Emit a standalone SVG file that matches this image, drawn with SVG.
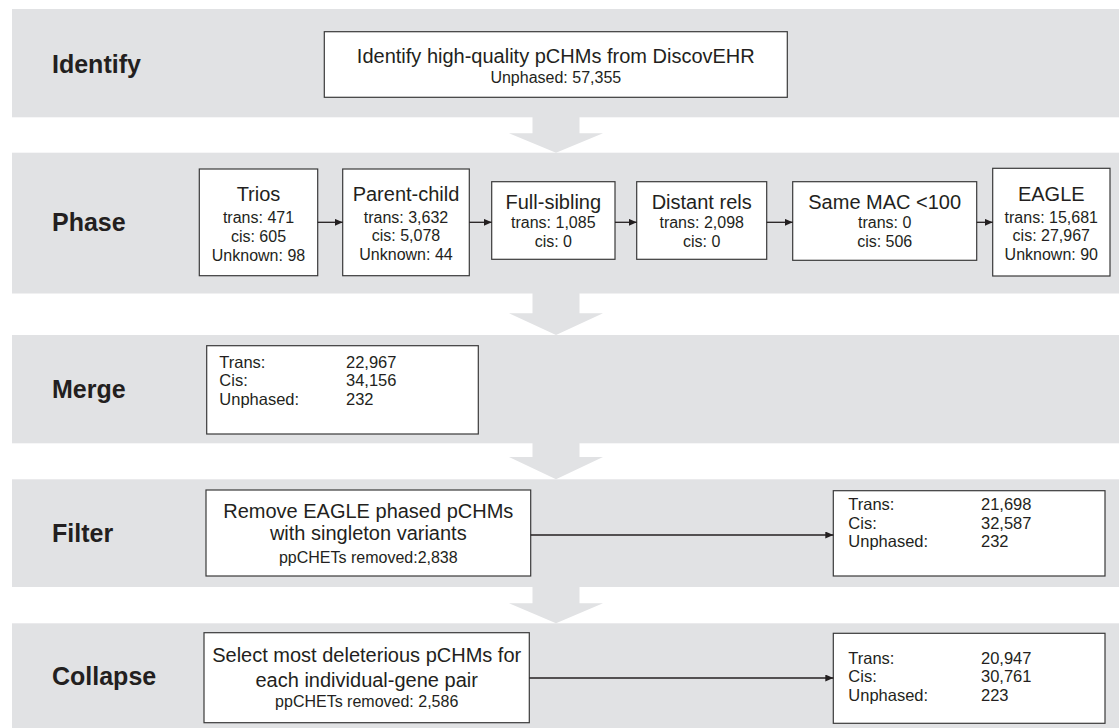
<svg xmlns="http://www.w3.org/2000/svg" width="1119" height="728" viewBox="0 0 1119 728">
<style>
.band{fill:#e1e2e4}
.box{fill:#fff;stroke:#3a3a3a;stroke-width:1.2}
.lbl{font-family:"Liberation Sans",Arial,sans-serif;font-weight:bold;font-size:25px;fill:#231f20}
.t20{font-family:"Liberation Sans",Arial,sans-serif;font-size:20px;fill:#231f20;text-anchor:middle}
.t16{font-family:"Liberation Sans",Arial,sans-serif;font-size:16px;fill:#231f20;text-anchor:middle}
.tl{font-family:"Liberation Sans",Arial,sans-serif;font-size:16.5px;fill:#231f20}
.conn{stroke:#231f20;stroke-width:1.3;fill:none;marker-end:url(#ah)}
</style>
<defs>
<marker id="ah" markerUnits="userSpaceOnUse" markerWidth="9" markerHeight="7" refX="8" refY="3.5" orient="auto">
<path d="M0,0 L8,3.5 L0,7 z" fill="#231f20"/>
</marker>
</defs>
<rect width="1119" height="728" fill="#fff"/>
<g id="bands">
<rect class="band" x="12" y="9" width="1107" height="108.3"/>
<rect class="band" x="12" y="152.7" width="1107" height="140.8"/>
<rect class="band" x="12" y="335" width="1107" height="108.3"/>
<rect class="band" x="12" y="479.3" width="1107" height="107.7"/>
<rect class="band" x="12" y="623.3" width="1107" height="104.7"/>
<polygon class="band" points="532.5,117 579.5,117 579.5,133.3 603,133.3 556,152.7 509,133.3 532.5,133.3"/>
<polygon class="band" points="532.5,293 579.5,293 579.5,313.3 603,313.3 556,335 509,313.3 532.5,313.3"/>
<polygon class="band" points="532.5,443 579.5,443 579.5,457 603,457 556,479.3 509,457 532.5,457"/>
<polygon class="band" points="532.5,586.5 579.5,586.5 579.5,603.3 603,603.3 556,623.3 509,603.3 532.5,603.3"/>
<text class="lbl" x="52" y="73">Identify</text>
<text class="lbl" x="52" y="231">Phase</text>
<text class="lbl" x="52" y="398">Merge</text>
<text class="lbl" x="52" y="542">Filter</text>
<text class="lbl" x="52" y="685">Collapse</text>
</g>
<g id="identify">
<rect class="box" x="324.3" y="31.7" width="463" height="65.6"/>
<text class="t20" x="555.8" y="63">Identify high-quality pCHMs from DiscovEHR</text>
<text class="t16" x="555.8" y="83">Unphased: 57,355</text>
</g>
<g id="trios">
<rect class="box" x="199.3" y="169" width="118.4" height="106.7"/>
<text class="t20" x="258.5" y="201">Trios</text>
<text class="t16" x="258.5" y="222.5">trans: 471</text>
<text class="t16" x="258.5" y="241.5">cis: 605</text>
<text class="t16" x="258.5" y="260.5">Unknown: 98</text>
</g>
<g id="parent-child">
<rect class="box" x="342.7" y="169" width="126.6" height="106.7"/>
<text class="t20" x="406" y="201">Parent-child</text>
<text class="t16" x="406" y="222.5">trans: 3,632</text>
<text class="t16" x="406" y="241">cis: 5,078</text>
<text class="t16" x="406" y="259.5">Unknown: 44</text>
</g>
<g id="full-sibling">
<rect class="box" x="491.7" y="181.7" width="123.3" height="77.6"/>
<text class="t20" x="553.3" y="209">Full-sibling</text>
<text class="t16" x="553.3" y="228">trans: 1,085</text>
<text class="t16" x="553.3" y="246.5">cis: 0</text>
</g>
<g id="distant-rels">
<rect class="box" x="636.7" y="181.7" width="130" height="77.6"/>
<text class="t20" x="701.7" y="209">Distant rels</text>
<text class="t16" x="701.7" y="228">trans: 2,098</text>
<text class="t16" x="701.7" y="246.5">cis: 0</text>
</g>
<g id="same-mac">
<rect class="box" x="792.7" y="181.7" width="184" height="78.6"/>
<text class="t20" x="884.7" y="209">Same MAC &lt;100</text>
<text class="t16" x="884.7" y="228">trans: 0</text>
<text class="t16" x="884.7" y="246.5">cis: 506</text>
</g>
<g id="eagle">
<rect class="box" x="992.7" y="168.3" width="117.3" height="107.7"/>
<text class="t20" x="1051.3" y="201">EAGLE</text>
<text class="t16" x="1051.3" y="222.5">trans: 15,681</text>
<text class="t16" x="1051.3" y="241">cis: 27,967</text>
<text class="t16" x="1051.3" y="259.5">Unknown: 90</text>
</g>
<g id="merge">
<rect class="box" x="206.7" y="345.7" width="271.6" height="88.3"/>
<text class="tl" x="219.3" y="367.5">Trans:</text>
<text class="tl" x="346" y="367.5">22,967</text>
<text class="tl" x="219.3" y="386">Cis:</text>
<text class="tl" x="346" y="386">34,156</text>
<text class="tl" x="219.3" y="404.5">Unphased:</text>
<text class="tl" x="346" y="404.5">232</text>
</g>
<g id="filter">
<rect class="box" x="206" y="490" width="324.7" height="86"/>
<text class="t20" x="368.3" y="518">Remove EAGLE phased pCHMs</text>
<text class="t20" x="368.3" y="540">with singleton variants</text>
<text class="t16" x="368.3" y="563">ppCHETs removed:2,838</text>
</g>
<g id="filter-result">
<rect class="box" x="833.3" y="490.7" width="271.7" height="85.3"/>
<text class="tl" x="848.3" y="510">Trans:</text>
<text class="tl" x="981" y="510">21,698</text>
<text class="tl" x="848.3" y="528.5">Cis:</text>
<text class="tl" x="981" y="528.5">32,587</text>
<text class="tl" x="848.3" y="547">Unphased:</text>
<text class="tl" x="981" y="547">232</text>
</g>
<g id="collapse">
<rect class="box" x="204" y="632.7" width="325.3" height="90"/>
<text class="t20" x="366.7" y="661.5">Select most deleterious pCHMs for</text>
<text class="t20" x="366.7" y="687">each individual-gene pair</text>
<text class="t16" x="366.7" y="707">ppCHETs removed: 2,586</text>
</g>
<g id="collapse-result">
<rect class="box" x="833.3" y="633.3" width="271.7" height="90"/>
<text class="tl" x="848.3" y="663.5">Trans:</text>
<text class="tl" x="981" y="663.5">20,947</text>
<text class="tl" x="848.3" y="682">Cis:</text>
<text class="tl" x="981" y="682">30,761</text>
<text class="tl" x="848.3" y="700.5">Unphased:</text>
<text class="tl" x="981" y="700.5">223</text>
</g>
<g id="connectors">
<line class="conn" x1="317.7" y1="222.3" x2="342.7" y2="222.3"/>
<line class="conn" x1="469.3" y1="222.3" x2="491.7" y2="222.3"/>
<line class="conn" x1="615" y1="222.3" x2="636.7" y2="222.3"/>
<line class="conn" x1="766.7" y1="222.3" x2="792.7" y2="222.3"/>
<line class="conn" x1="976.7" y1="222.3" x2="992.7" y2="222.3"/>
<line class="conn" x1="530.7" y1="535" x2="833.3" y2="535"/>
<line class="conn" x1="529.3" y1="678" x2="833.3" y2="678"/>
</g>
</svg>
